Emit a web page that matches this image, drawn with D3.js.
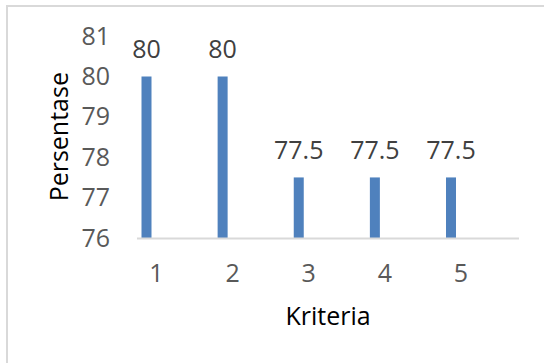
<!DOCTYPE html>
<html>
<head>
<meta charset="utf-8">
<script src="https://cdn.jsdelivr.net/npm/d3@7"></script>
<style>
  html, body { margin: 0; padding: 0; background: #fff; }
  svg { display: block; }
  text { font-family: "Open Sans", sans-serif; }
</style>
</head>
<body>
<svg id="chart" width="544" height="363"></svg>
<script>
const categories = ["1", "2", "3", "4", "5"];
const values = [80, 80, 77.5, 77.5, 77.5];
const yTicks = [76, 77, 78, 79, 80, 81];
const xTitle = "Kriteria";
const yTitle = "Persentase";

const svg = d3.select("#chart");

// outer border (only top and left visible in the crop)
svg.append("rect")
  .attr("x", 7).attr("y", 6)
  .attr("width", 600).attr("height", 400)
  .attr("fill", "none")
  .attr("stroke", "#D9D9D9")
  .attr("stroke-width", 2);

const y = d3.scaleLinear().domain([76, 80]).range([238, 76.5]);
const x = d3.scalePoint().domain(categories).range([146.5, 451]);

// y tick labels
svg.append("g").selectAll("text")
  .data(yTicks).join("text")
  .attr("x", 110)
  .attr("y", d => y(d))
  .attr("dy", "0.34em")
  .attr("text-anchor", "end")
  .attr("font-size", 25)
  .attr("fill", "#595959")
  .text(d => d);

// bars
const barW = 10;
svg.append("g").selectAll("rect")
  .data(values).join("rect")
  .attr("x", (d, i) => x(categories[i]) - barW / 2)
  .attr("y", d => y(d))
  .attr("width", barW)
  .attr("height", d => y(76) - y(d))
  .attr("fill", "#4F81BD");

// x axis line
svg.append("line")
  .attr("x1", 137).attr("x2", 519)
  .attr("y1", y(76) + 0.5).attr("y2", y(76) + 0.5)
  .attr("stroke", "#D9D9D9")
  .attr("stroke-width", 2);

// data labels
svg.append("g").selectAll("text")
  .data(values).join("text")
  .attr("x", (d, i) => x(categories[i]))
  .attr("y", d => y(d) - 18.5)
  .attr("text-anchor", "middle")
  .attr("font-size", 25)
  .attr("fill", "#404040")
  .text(d => d);

// x tick labels
svg.append("g").selectAll("text")
  .data(categories).join("text")
  .attr("x", d => x(d) + 10)
  .attr("y", 282)
  .attr("text-anchor", "middle")
  .attr("font-size", 25)
  .attr("fill", "#595959")
  .text(d => d);

// axis titles
svg.append("text")
  .attr("x", 328).attr("y", 325)
  .attr("text-anchor", "middle")
  .attr("font-size", 25)
  .attr("fill", "#000")
  .text(xTitle);

svg.append("text")
  .attr("transform", "translate(68,136.7) rotate(-90)")
  .attr("text-anchor", "middle")
  .attr("font-size", 25)
  .attr("fill", "#000")
  .text(yTitle);
</script>
</body>
</html>
